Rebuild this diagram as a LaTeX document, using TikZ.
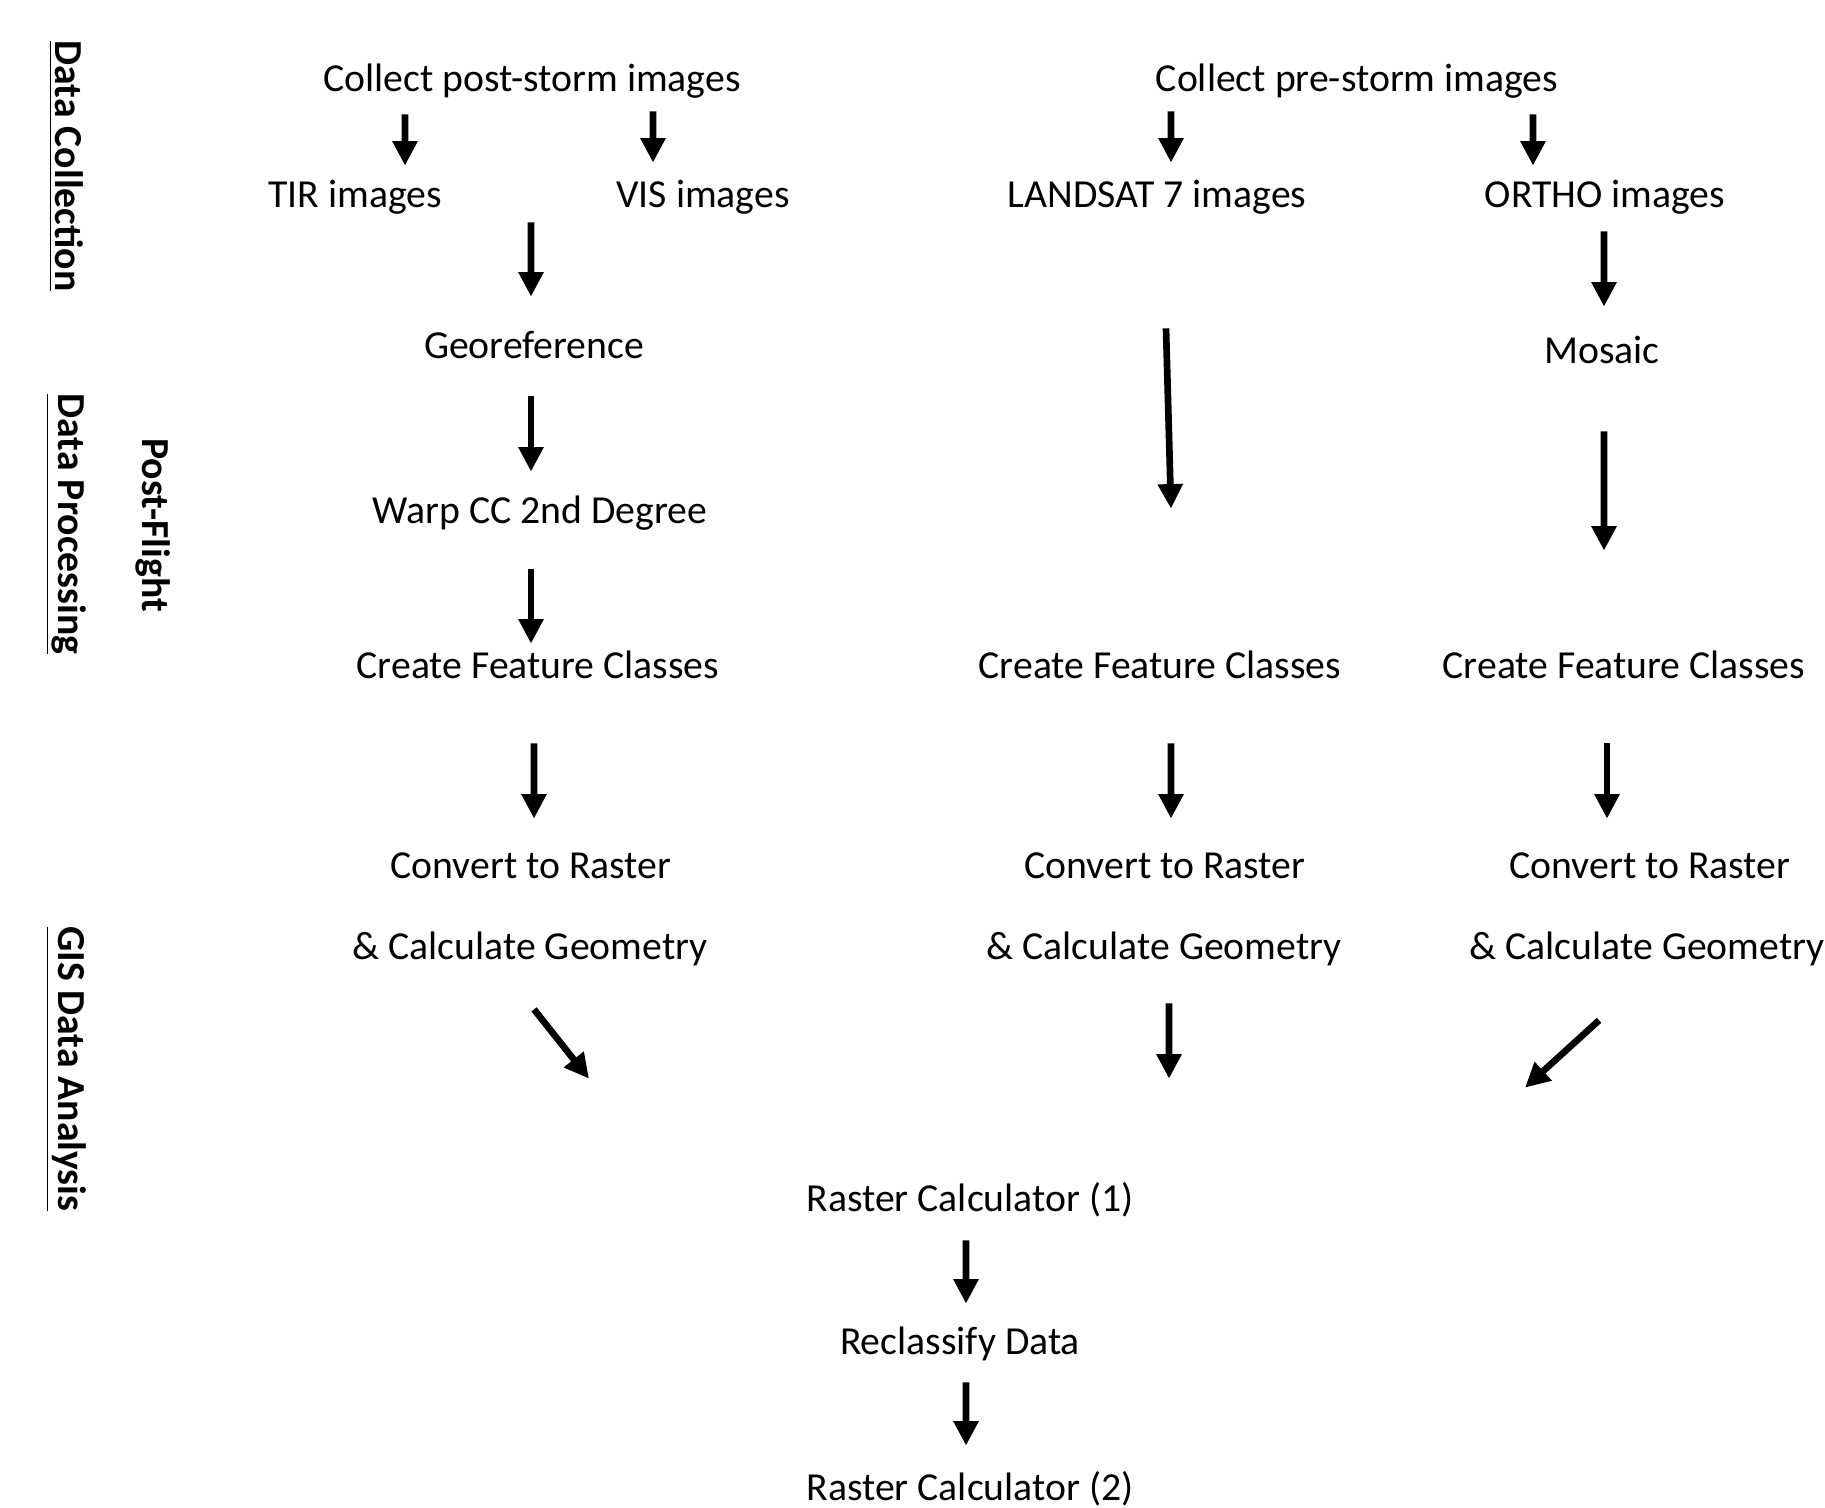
\documentclass[tikz,border=0pt]{standalone}
\usepackage{fontspec}
\setmainfont{Carlito}
\usepackage{tikz}
\usetikzlibrary{positioning, calc, arrows.meta}

\begin{document}
\begin{tikzpicture}[->,>={Triangle[length=7pt,width=6.8pt]},line width=1.9pt,
  stage/.style={inner sep=0pt, minimum height=.5cm, text height=2.05ex, text depth=.45ex, font=\fontsize{11.3}{13}\selectfont},
  phase/.style={inner sep=0pt, rotate=-90, font=\fontsize{11.3}{13}\selectfont\bfseries}]
  \useasboundingbox (0,0) rectangle (18.25,-15.08);
  % phases
  \node[phase] (collect) at (0.66,-1.66) {\underline{Data Collection}};
  \node[phase] (process) at (0.66,-5.24) {\underline{Data Processing}};
  \node[phase] (flight) at (1.53,-5.25) {Post-Flight};
  \node[phase] (gis) at (0.66,-10.69) {\underline{GIS Data Analysis}};
  % post-storm
  \node[stage] (post) at (5.32,-0.78) {Collect post-storm images};
  \node[stage] (tir) at (3.55,-1.94) {TIR images};
  \node[stage] (vis) at (7.03,-1.94) {VIS images};
  \node[stage] (georef) at (5.34,-3.45) {Georeference};
  \node[stage] (warp) at (5.40,-5.10) {Warp CC 2nd Degree};
  \node[stage] (cfcA) at (5.38,-6.65) {Create Feature Classes};
  \node[stage] (convA) at (5.31,-8.65) {Convert to Raster};
  \node[stage] (geomA) at (5.30,-9.46) {\& Calculate Geometry};
  % pre-storm
  \node[stage] (pre) at (13.57,-0.78) {Collect pre-storm images};
  \node[stage] (landsat) at (11.57,-1.94) {LANDSAT 7 images};
  \node[stage] (ortho) at (16.05,-1.94) {ORTHO images};
  \node[stage] (mosaic) at (16.02,-3.50) {Mosaic};
  \node[stage] (cfcB) at (11.60,-6.65) {Create Feature Classes};
  \node[stage] (convB) at (11.65,-8.65) {Convert to Raster};
  \node[stage] (geomB) at (11.64,-9.46) {\& Calculate Geometry};
  \node[stage] (cfcC) at (16.24,-6.65) {Create Feature Classes};
  \node[stage] (convC) at (16.50,-8.65) {Convert to Raster};
  \node[stage] (geomC) at (16.47,-9.46) {\& Calculate Geometry};
  % analysis
  \node[stage] (rc1) at (9.70,-11.98) {Raster Calculator (1)};
  \node[stage] (recl) at (9.60,-13.41) {Reclassify Data};
  \node[stage] (rc2) at (9.70,-14.87) {Raster Calculator (2)};
  \coordinate (tv) at ($(tir.south)!.5!(vis.south)$);
  \path
    ([xshift=-1.27cm,yshift=-.08cm]post.south) edge ([xshift=.50cm]tir.north)
    ([xshift=1.21cm,yshift=-.05cm]post.south) edge ([xshift=-.50cm,yshift=.03cm]vis.north)
    ([xshift=.02cm]tv) edge ([xshift=-.03cm,yshift=.20cm]georef.north)
    ([xshift=-.03cm,yshift=-.23cm]georef.south) edge ([xshift=-.09cm,yshift=.10cm]warp.north)
    ([xshift=-.09cm,yshift=-.31cm]warp.south) edge ([xshift=-.07cm,yshift=-.07cm]cfcA.north)
    ([xshift=-.04cm,yshift=-.50cm]cfcA.south) edge ([xshift=.03cm,yshift=.18cm]convA.north);
  \path
    ([xshift=-1.86cm,yshift=-.05cm]pre.south) edge ([xshift=.14cm,yshift=.03cm]landsat.north)
    ([xshift=1.76cm,yshift=-.08cm]pre.south) edge ([xshift=-.72cm]ortho.north)
    ([xshift=.09cm,yshift=-1.06cm]landsat.south) edge ([xshift=.11cm,yshift=1.28cm]cfcB.north)
    ([xshift=.11cm,yshift=-.50cm]cfcB.south) edge ([xshift=.06cm,yshift=.18cm]convB.north)
    ([xshift=-.01cm,yshift=-.09cm]ortho.south) edge ([xshift=.02cm,yshift=.15cm]mosaic.north)
    ([xshift=.02cm,yshift=-.53cm]mosaic.south) edge ([xshift=-.20cm,yshift=.86cm]cfcC.north)
    ([xshift=-.17cm,yshift=-.50cm]cfcC.south) edge ([xshift=-.43cm,yshift=.18cm]convC.north);
  \path
    ([xshift=.04cm,yshift=-.35cm]geomA.south) edge ([xshift=-3.81cm,yshift=.91cm]rc1.north)
    ([xshift=.05cm,yshift=-.29cm]geomB.south) edge ([xshift=1.99cm,yshift=.91cm]rc1.north)
    ([xshift=-.48cm,yshift=-.46cm]geomC.south) edge ([xshift=5.55cm,yshift=.82cm]rc1.north)
    ([xshift=-.04cm,yshift=-.14cm]rc1.south) edge ([xshift=.06cm,yshift=.09cm]recl.north)
    ([xshift=.06cm,yshift=-.13cm]recl.south) edge ([xshift=-.04cm,yshift=.13cm]rc2.north);
\end{tikzpicture}
\end{document}
